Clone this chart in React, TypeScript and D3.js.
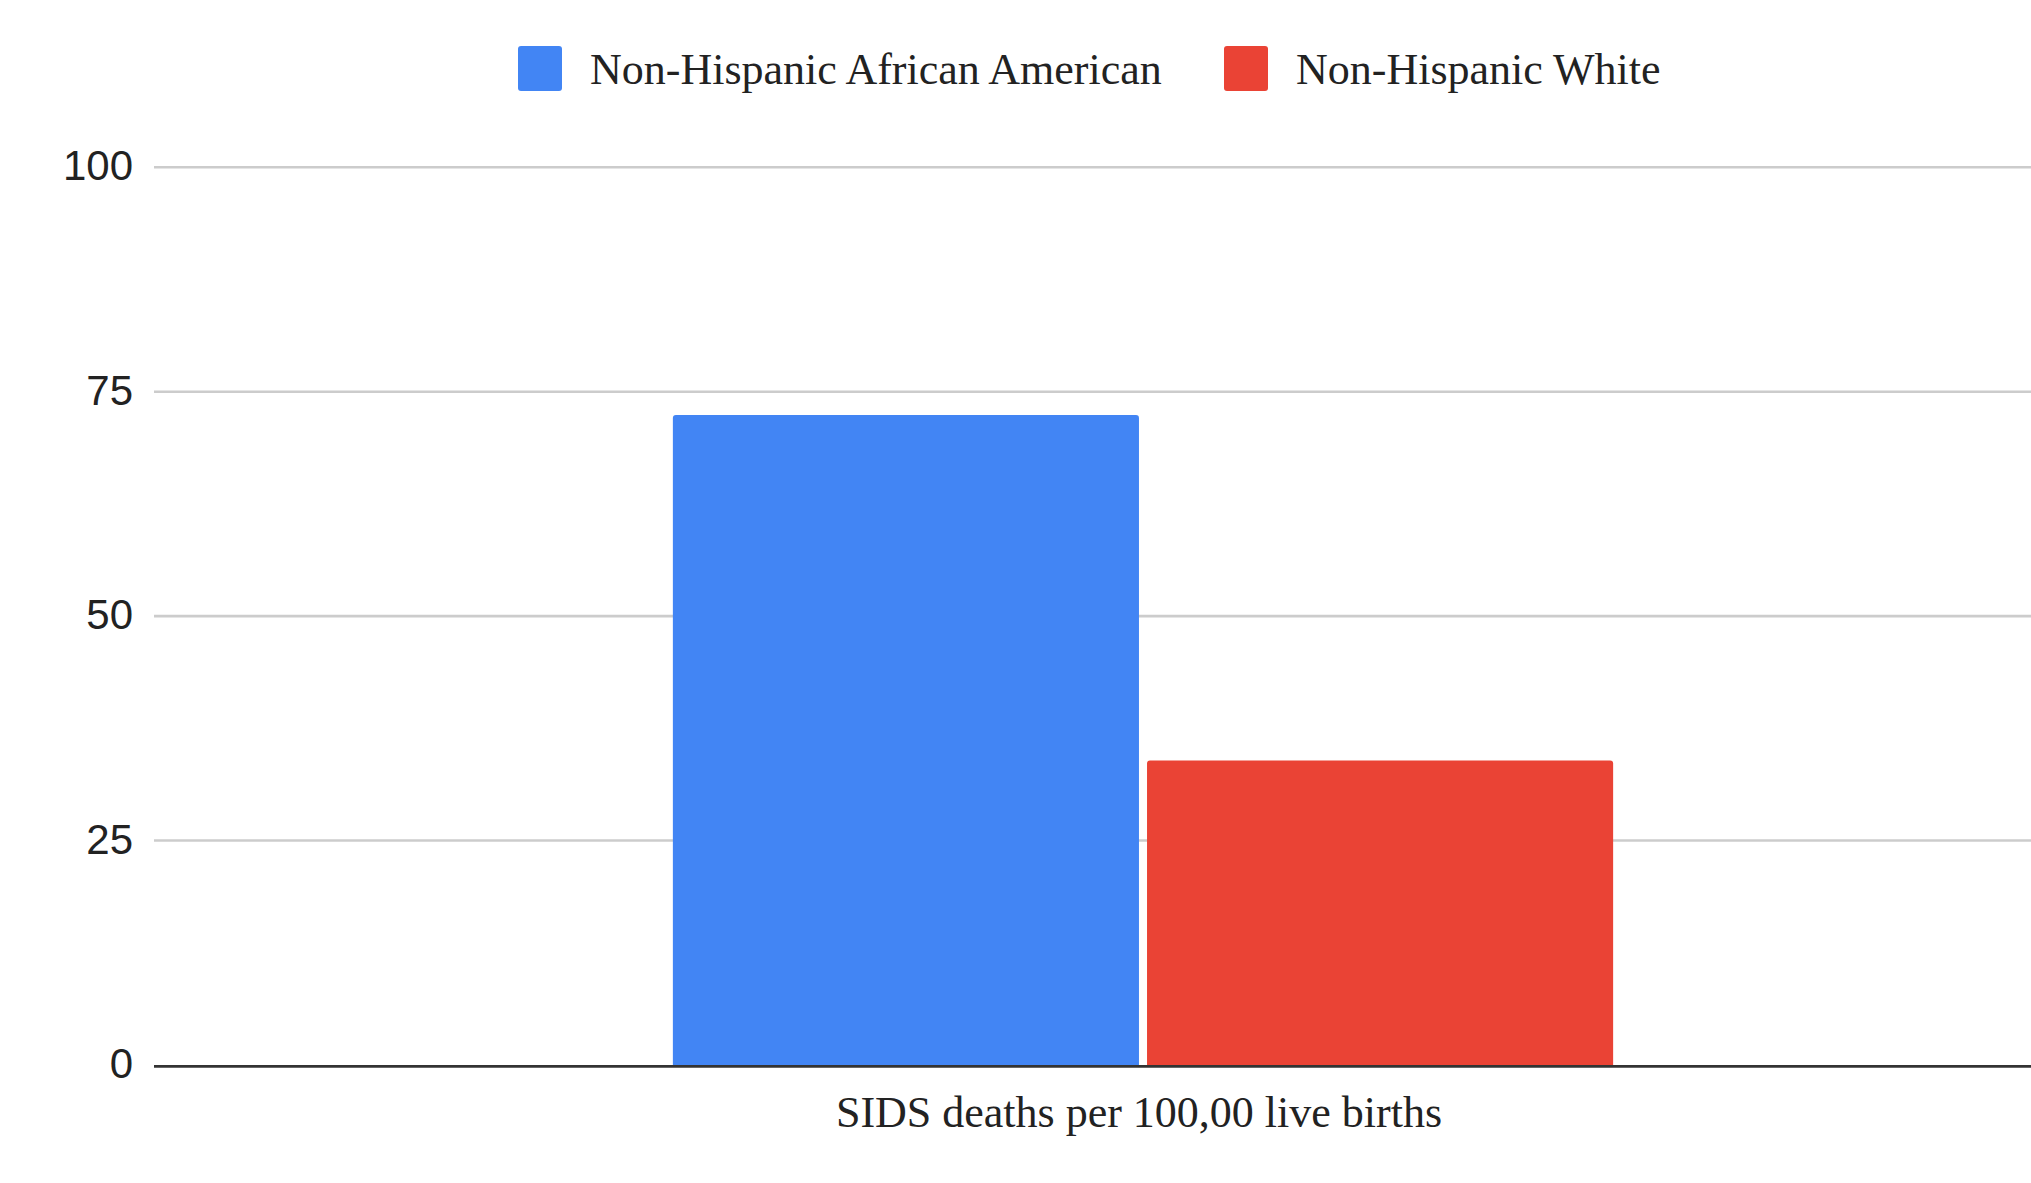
import React from "react";
import * as d3 from "d3";

// Chart data
const categories = ["SIDS deaths per 100,00 live births"];
const seriesNames = ["Non-Hispanic African American", "Non-Hispanic White"];
const seriesColors = ["#4285F4", "#EA4335"];
const africanAmericanValues = [72.4];
const whiteValues = [33.9];
const yTicks = [0, 25, 50, 75, 100];

const W = 2031;
const H = 1183;
const margin = { left: 154, right: -101, top: 167.3, bottom: 118.1 };

export default function App() {
  const seriesValues = [africanAmericanValues, whiteValues];
  const y = d3
    .scaleLinear()
    .domain([0, 100])
    .range([H - margin.bottom, margin.top]);
  const x0 = d3
    .scaleBand<string>()
    .domain(categories)
    .range([margin.left, W - margin.right])
    .padding(0.3556);
  const x1 = d3
    .scaleBand<string>()
    .domain(seriesNames)
    .range([0, x0.bandwidth()])
    .paddingInner(0.017);

  const topRoundedRect = (x: number, yTop: number, w: number, h: number, r: number) => {
    const p = d3.path();
    p.moveTo(x, yTop + h);
    p.lineTo(x, yTop + r);
    p.quadraticCurveTo(x, yTop, x + r, yTop);
    p.lineTo(x + w - r, yTop);
    p.quadraticCurveTo(x + w, yTop, x + w, yTop + r);
    p.lineTo(x + w, yTop + h);
    p.closePath();
    return p.toString();
  };

  const legendItems = [
    { name: seriesNames[0], color: seriesColors[0], x: 518 },
    { name: seriesNames[1], color: seriesColors[1], x: 1224 },
  ];

  return (
    <svg
      width={W}
      height={H}
      style={{ position: "absolute", left: 0, top: 0, background: "#fff" }}
    >
      {/* gridlines */}
      {yTicks
        .filter((t) => t !== 0)
        .map((t) => (
          <line
            key={"g" + t}
            x1={margin.left}
            x2={W}
            y1={y(t)}
            y2={y(t)}
            stroke="#cccccc"
            strokeWidth={2.6}
          />
        ))}
      {/* y tick labels */}
      {yTicks.map((t) => (
        <text
          key={"t" + t}
          x={133}
          y={y(t) + 13}
          textAnchor="end"
          fontFamily="'Liberation Sans', Arial, sans-serif"
          fontSize={42}
          fill="#222"
        >
          {t}
        </text>
      ))}
      {/* bars */}
      {categories.map((c, ci) =>
        seriesNames.map((s, si) => {
          const v = seriesValues[si][ci];
          const bx = (x0(c) ?? 0) + (x1(s) ?? 0);
          return (
            <path
              key={c + s}
              d={topRoundedRect(bx, y(v), x1.bandwidth(), y(0) - y(v), 3)}
              fill={seriesColors[si]}
            />
          );
        })
      )}
      {/* baseline */}
      <line
        x1={margin.left}
        x2={W}
        y1={y(0) + 1.5}
        y2={y(0) + 1.5}
        stroke="#333"
        strokeWidth={2.7}
      />
      {/* category label */}
      {categories.map((c) => (
        <text
          key={"c" + c}
          x={(x0(c) ?? 0) + x0.bandwidth() / 2 - 4}
          y={1127}
          textAnchor="middle"
          fontFamily="'Liberation Serif', 'Times New Roman', serif"
          fontSize={44}
          fill="#222"
        >
          {c}
        </text>
      ))}
      {/* legend */}
      {legendItems.map((item) => (
        <g key={item.name}>
          <rect x={item.x} y={46} width={44} height={45} rx={3} fill={item.color} />
          <text
            x={item.x + 72}
            y={84}
            fontFamily="'Liberation Serif', 'Times New Roman', serif"
            fontSize={44}
            fill="#222"
          >
            {item.name}
          </text>
        </g>
      ))}
    </svg>
  );
}
